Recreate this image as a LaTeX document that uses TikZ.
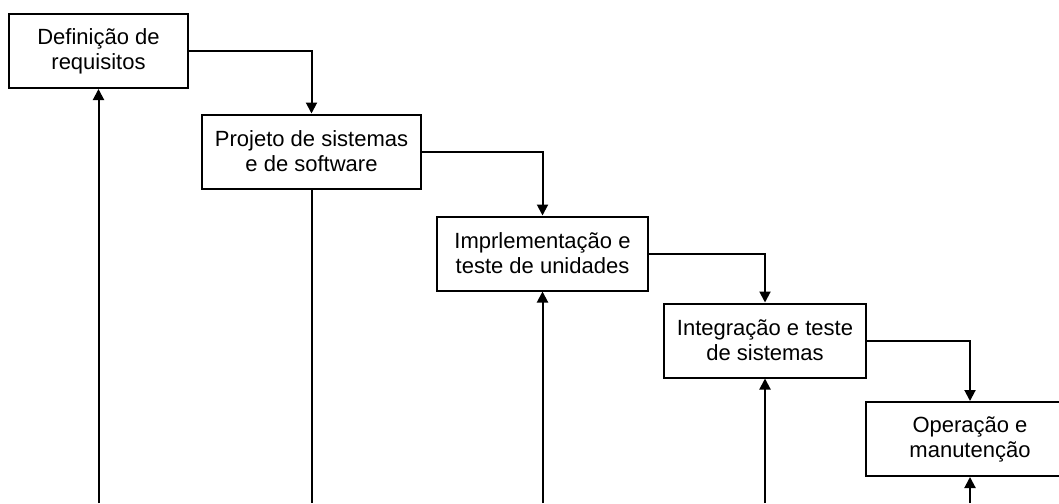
\documentclass[tikz,border=0pt]{standalone}
\usepackage{fontspec}
\setmainfont{Liberation Sans}
\usetikzlibrary{positioning, arrows.meta}
\tikzset{
    fase/.style={
        draw,
        align=center,
        inner sep=0pt,
        line width=1pt,
        minimum width=#1,
        minimum height=37pt,
        font=\fontsize{11pt}{12.5pt}\selectfont
    },
    seta/.style={
        line width=1pt,
        -{Triangle[length=5.5pt,width=5.5pt]}
    }
}

\begin{document}
\begin{tikzpicture}[x=0.5pt,y=-0.5pt]
            \useasboundingbox (0,0) rectangle (1059,503);
            \coordinate (base) at (0,503);
            \node[fase=89.5pt] (b1) at (98.5,51)  {Definição de\\requisitos};
            \node[fase=109.5pt] (b2) at (311.5,151.5) {Projeto de sistemas\\e de software};
            \node[fase=105.5pt] (b3) at (542.5,253.5) {Imprlementação e\\teste de unidades};
            \node[fase=101pt] (b4) at (765,340.5) {Integração e teste\\de sistemas};
            \node[fase=104pt] (b5) at (970,439) {Operação e\\manutenção};
            \foreach \s/\t in {1/2,2/3,3/4,4/5}
              \draw[seta] (b\s.east) -| (b\t.north);
            \foreach \s in {1,3,4,5}
              \draw[seta] (b\s.south |- base) -- (b\s.south);
            \draw[line width=1pt] (b2.south) -- (b2.south |- base);
          \end{tikzpicture}
\end{document}
